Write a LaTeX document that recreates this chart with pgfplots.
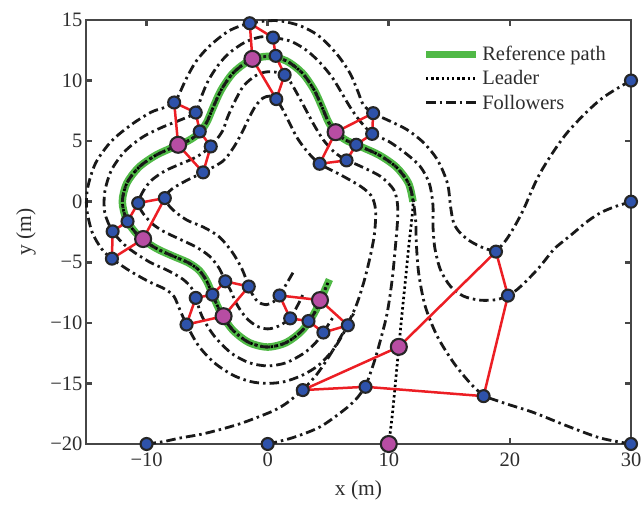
\documentclass[border=0pt]{standalone}
\usepackage{fontspec}
\setmainfont{Liberation Serif}
\usepackage{pgfplots}
\usepackage{pgfplotstable}
\pgfplotsset{compat=1.18}

\definecolor{refgreen}{RGB}{80,185,70}
\definecolor{linkred}{RGB}{236,30,36}
\definecolor{agentblue}{RGB}{46,82,170}
\definecolor{leadmag}{RGB}{183,77,163}
\definecolor{axgray}{RGB}{70,70,70}
\definecolor{txtgray}{RGB}{45,45,45}

% reference path
\pgfplotstableread{
x y
12 0
11.63 1.53
10.63 2.85
9.24 3.83
7.79 4.5
6.56 5.03
5.66 5.66
5.03 6.56
4.5 7.79
3.83 9.24
2.85 10.63
1.53 11.63
0 12
-1.53 11.63
-2.85 10.63
-3.83 9.24
-4.5 7.79
-5.03 6.56
-5.66 5.66
-6.56 5.03
-7.79 4.5
-9.24 3.83
-10.63 2.85
-11.63 1.53
-12 0
-11.63 -1.53
-10.63 -2.85
-9.24 -3.83
-7.79 -4.5
-6.56 -5.03
-5.66 -5.66
-5.03 -6.56
-4.5 -7.79
-3.83 -9.24
-2.85 -10.63
-1.53 -11.63
0 -12
1.53 -11.63
2.85 -10.63
3.83 -9.24
4.5 -7.79
5.1 -6.42
}\refpath

% leader trajectory
\pgfplotstableread{
x y
10 -20
10.28 -17.7
10.55 -14.95
10.83 -11.98
11.1 -9.18
11.38 -6.43
11.65 -3.68
11.88 -1.6
12 0
11.63 1.53
10.63 2.85
9.24 3.83
7.79 4.5
6.56 5.03
5.66 5.66
5.03 6.56
4.5 7.79
3.83 9.24
2.85 10.63
1.53 11.63
0 12
-1.53 11.63
-2.85 10.63
-3.83 9.24
-4.5 7.79
-5.03 6.56
-5.66 5.66
-6.56 5.03
-7.79 4.5
-9.24 3.83
-10.63 2.85
-11.63 1.53
-12 0
-11.63 -1.53
-10.63 -2.85
-9.24 -3.83
-7.79 -4.5
-6.56 -5.03
-5.66 -5.66
-5.03 -6.56
-4.5 -7.79
-3.83 -9.24
-2.85 -10.63
-1.53 -11.63
0 -12
1.53 -11.63
2.85 -10.63
3.83 -9.24
4.5 -7.79
5.03 -6.56
}\leadtraj

% follower 1 (inner, 3 m)
\pgfplotstableread{
x y
-10 -20
-8.6 -19.8
-7.2 -19.5
-5.5 -19.2
-3.9 -18.8
-2.2 -18.3
-0.6 -17.7
0.6 -17.2
1.6 -16.6
2.9 -15.55
}\fonea
\pgfplotstableread{
x y
2.9 -15.55
4.1 -14.2
5.3 -12.4
6.4 -10.5
7.3 -8.6
7.95 -6.6
8.45 -4.6
8.8 -2.8
8.92 -1.2
8.85 -0.3
8.55 0.5
7.7 1.25
6.0 2.23
4.29 3.13
3.3 4.1
2.45 5.25
1.8 6.5
1.25 7.6
0.71 8.47
0.2 8.72
-0.4 8.55
-1.0 7.9
-1.55 6.9
-2.1 5.75
-2.8 4.5
-3.7 3.35
-5.33 2.42
-6.7 1.75
-7.9 1.05
-8.49 0.3
-7.9 -0.6
-6.7 -1.5
-5.3 -2.1
-4.0 -2.9
-2.9 -4.2
-2.1 -5.6
-1.56 -7.0
-1.2 -7.75
-0.75 -8.3
-0.1 -8.5
0.5 -8.25
0.98 -7.74
1.6 -6.7
2.14 -5.77
}\foneb

% follower 2 (inner, 1.5 m)
\pgfplotstableread{
x y
0 -20
2.0 -19.5
4.3 -18.6
6.3 -17.2
7.3 -16.3
8.08 -15.28
}\ftwoa
\pgfplotstableread{
x y
8.08 -15.28
8.77 -13.3
9.32 -11.4
9.87 -9.18
10.28 -6.43
10.55 -3.68
10.72 -1.6
10.72 -0.2
10.4 1.0
9.3 2.1
7.4 3.05
6.51 3.41
5.5 4.1
4.6 5.1
3.85 6.3
3.2 7.5
2.5 8.8
1.9 9.85
1.40 10.47
0.6 10.7
-0.2 10.7
-1.0 10.4
-2.0 9.55
-2.75 8.2
-3.3 7.0
-3.75 5.8
-4.70 4.56
-5.89 3.69
-7.22 3.11
-8.52 2.52
-9.61 1.75
-10.28 0.87
-10.69 -0.11
-10.3 -0.95
-9.55 -1.8
-8.6 -2.45
-7.22 -3.11
-5.89 -3.75
-4.8 -4.5
-4.0 -5.5
-3.5 -6.57
-3.11 -7.22
-2.52 -8.52
-1.75 -9.61
-0.87 -10.28
0 -10.5
0.87 -10.28
1.86 -9.63
2.4 -8.7
2.9 -7.7
}\ftwob

% follower 3 (on the path)
\pgfplotstableread{
x y
30 -20
27.45 -19.5
24.7 -18.5
21.95 -17.4
19.76 -16.7
17.83 -16.05
}\fthreea
\pgfplotstableread{
x y
17.83 -16.05
16.7 -14.95
15.36 -13.3
14.0 -11.1
13.0 -8.6
12.47 -5.9
12.28 -3.5
12.22 -1.6
12.0 0.2
11.63 1.53
10.63 2.85
9.24 3.83
7.79 4.5
6.56 5.03
5.66 5.66
5.03 6.56
4.5 7.79
3.83 9.24
2.85 10.63
1.53 11.63
0 12
-1.53 11.63
-2.85 10.63
-3.83 9.24
-4.5 7.79
-5.03 6.56
-5.66 5.66
-6.56 5.03
-7.79 4.5
-9.24 3.83
-10.63 2.85
-11.63 1.53
-12 0
-11.63 -1.53
-10.63 -2.85
-9.24 -3.83
-7.79 -4.5
-6.56 -5.03
-5.66 -5.66
-5.03 -6.56
-4.5 -7.79
-3.83 -9.24
-2.85 -10.63
-1.53 -11.63
0 -12
1.53 -11.63
2.85 -10.63
3.83 -9.24
4.5 -7.79
4.86 -6.94
}\fthreeb

% follower 4 (outer, 1.5 m)
\pgfplotstableread{
x y
30 0
28.7 -0.4
27.45 -0.93
26.3 -1.7
25.25 -2.58
24.3 -3.35
23.6 -3.96
22.5 -5.33
21.6 -6.3
20.6 -7.25
19.84 -7.75
}\ffoura
\pgfplotstableread{
x y
19.84 -7.75
18.93 -8.08
17.56 -8.13
16.18 -7.8
15.09 -6.98
14.26 -5.6
13.8 -3.8
13.65 -2.0
13.65 -0.3
13.35 1.5
12.6 2.9
11.45 3.95
9.96 5.0
8.63 5.6
7.55 6.75
6.75 7.9
6.1 9.0
5.3 10.3
4.3 11.5
3.2 12.5
1.9 13.25
0.44 13.55
-0.6 13.6
-1.9 13.15
-3.2 12.25
-4.1 11.25
-4.9 10.0
-5.5 8.6
-5.94 7.36
-7.2 6.75
-8.7 6.15
-10.3 5.35
-11.8 4.15
-12.9 2.6
-13.45 0.8
-13.45 -0.9
-12.80 -2.45
-11.6 -3.75
-9.8 -4.95
-8.2 -5.7
-7.0 -6.4
-6.3 -7.1
-5.94 -7.94
-5.4 -9.5
-4.4 -11.1
-3.0 -12.5
-1.5 -13.3
0 -13.55
1.5 -13.3
3.0 -12.5
3.95 -11.65
4.6 -10.8
5.1 -10.0
5.5 -9.4
}\ffourb

% follower 5 (outer, 3 m)
\pgfplotstableread{
x y
30 10
27.45 8.41
24.7 5.66
22.5 2.37
21.0 -0.9
19.8 -3.0
18.85 -4.12
}\ffivea
\pgfplotstableread{
x y
18.85 -4.12
17.83 -3.82
16.74 -3.27
15.9 -2.58
15.36 -1.76
15.1 -0.4
14.85 1.5
14.05 3.4
12.9 4.85
11.5 5.95
10.1 6.65
8.71 7.31
7.9 8.0
7.45 9.1
6.8 10.6
5.7 12.2
4.2 13.7
2.6 14.55
0.7 14.95
-1.48 14.73
-3.2 14.1
-4.8 12.85
-5.9 11.6
-6.7 10.2
-7.3 8.9
-7.72 8.19
-8.6 7.75
-9.6 7.4
-11.2 6.4
-12.9 5.0
-14.2 3.2
-14.85 1.2
-14.95 -0.5
-14.5 -2.5
-13.7 -3.9
-12.86 -4.70
-11.4 -5.7
-9.8 -6.6
-8.5 -7.2
-7.75 -7.8
-7.3 -8.8
-6.70 -10.14
-5.7 -11.9
-4.4 -13.3
-2.86 -14.32
-1.4 -14.85
0 -15
1.4 -14.85
2.86 -14.32
4.2 -13.5
5.5 -12.1
6.62 -10.2
7.2 -9.0
}\ffiveb

% formation snapshots: leader, F1, F2, F3, F4, F5 (ring closed on the leader)
\pgfplotstableread{
x y
10 -20
-10 -20
0 -20
30 -20
30 0
30 10
}\snapzero
\pgfplotstableread{
x y
10.83 -11.98
2.9 -15.55
8.08 -15.28
17.83 -16.05
19.84 -7.75
18.85 -4.12
10.83 -11.98
}\snapone
\pgfplotstableread{
x y
5.61 5.74
4.29 3.13
6.51 3.41
7.31 4.70
8.63 5.6
8.71 7.31
5.61 5.74
}\snaptwo
\pgfplotstableread{
x y
-1.26 11.79
0.71 8.47
1.40 10.47
0.66 12.04
0.44 13.55
-1.48 14.73
-1.26 11.79
}\snapthree
\pgfplotstableread{
x y
-7.39 4.70
-5.33 2.42
-4.70 4.56
-5.61 5.80
-5.94 7.36
-7.72 8.19
-7.39 4.70
}\snapfour
\pgfplotstableread{
x y
-10.28 -3.08
-8.49 0.30
-10.69 -0.11
-11.57 -1.62
-12.80 -2.45
-12.86 -4.70
-10.28 -3.08
}\snapfive
\pgfplotstableread{
x y
-3.64 -9.45
-1.56 -7.0
-3.5 -6.57
-4.56 -7.67
-5.94 -7.94
-6.70 -10.14
-3.64 -9.45
}\snapsix
\pgfplotstableread{
x y
4.32 -8.12
0.98 -7.74
1.86 -9.63
3.37 -9.85
4.6 -10.8
6.62 -10.2
4.32 -8.12
}\snapseven

\pgfplotsset{
  follower/.style={black!90, line width=2.8pt,
    dash pattern=on 9.5pt off 4pt on 2.5pt off 4pt, smooth},
  leaderline/.style={black, line width=2.7pt, dash pattern=on 2.4pt off 2.8pt, smooth},
  link/.style={linkred, line width=2.5pt, line join=round, forget plot},
  agent/.style={only marks, mark=*, mark size=6pt, forget plot,
    mark options={fill=agentblue, draw=black!85, line width=2.1pt, solid},
    restrict expr to domain={\coordindex}{1:5}},
  leadmark/.style={only marks, mark=*, mark size=8pt, forget plot,
    mark options={fill=leadmag, draw=black!85, line width=2.1pt, solid},
    restrict expr to domain={\coordindex}{0:0}},
}

\begin{document}
\begin{tikzpicture}
\begin{axis}[
  scale only axis, width=545pt, height=424pt,
  xmin=-15, xmax=30, ymin=-20, ymax=15,
  clip=false,
  xtick={-10,0,10,20,30}, xticklabels={−10,0,10,20,30},
  ytick={-20,-15,...,15}, yticklabels={−20,−15,−10,−5,0,5,10,15},
  tick label style={font=\fontsize{20.5}{24}\selectfont, text=txtgray},
  xticklabel style={yshift=-5pt},
  label style={font=\fontsize{21.5}{26}\selectfont, text=txtgray},
  xlabel={x (m)}, ylabel={y (m)},
  xlabel style={at={(axis description cs:0.5,-0.11)}, anchor=center},
  ylabel style={at={(axis description cs:-0.11,0.5)}, anchor=center},
  axis line style={axgray, line width=2.6pt},
  tick style={axgray, line width=2.6pt},
  major tick length=6pt,
  legend cell align=left,
  legend image code/.code={\draw[#1] (0pt,0pt) -- (50pt,0pt);},
  legend style={at={(axis cs:12.75,13.05)}, anchor=north west, draw=none, fill=none,
    font=\fontsize{20.5}{24}\selectfont, text=txtgray, inner sep=0pt, row sep=3.5pt,
    nodes={inner sep=2.5pt}},
]
\coordinate (bbsw) at (rel axis cs:0,0);
\coordinate (bbne) at (rel axis cs:1,1);

\addplot[refgreen, line width=7.5pt, smooth] table {\refpath};
\addlegendentry{Reference path}
\addplot[leaderline] table {\leadtraj};
\addlegendentry{Leader}
\addplot[follower] table {\fonea};
\addlegendentry{Followers}
\addplot[follower, forget plot] table {\foneb};
\addplot[follower, forget plot] table {\ftwoa};
\addplot[follower, forget plot] table {\ftwob};
\addplot[follower, forget plot] table {\fthreea};
\addplot[follower, forget plot] table {\fthreeb};
\addplot[follower, forget plot] table {\ffoura};
\addplot[follower, forget plot] table {\ffourb};
\addplot[follower, forget plot] table {\ffivea};
\addplot[follower, forget plot] table {\ffiveb};

% formation links
\addplot[link] table {\snapone};
\addplot[link] table {\snaptwo};
\addplot[link] table {\snapthree};
\addplot[link] table {\snapfour};
\addplot[link] table {\snapfive};
\addplot[link] table {\snapsix};
\addplot[link] table {\snapseven};

% agents
\addplot[agent] table {\snapzero};
\addplot[agent] table {\snapone};
\addplot[agent] table {\snaptwo};
\addplot[agent] table {\snapthree};
\addplot[agent] table {\snapfour};
\addplot[agent] table {\snapfive};
\addplot[agent] table {\snapsix};
\addplot[agent] table {\snapseven};
\addplot[leadmark] table {\snapzero};
\addplot[leadmark] table {\snapone};
\addplot[leadmark] table {\snaptwo};
\addplot[leadmark] table {\snapthree};
\addplot[leadmark] table {\snapfour};
\addplot[leadmark] table {\snapfive};
\addplot[leadmark] table {\snapsix};
\addplot[leadmark] table {\snapseven};
\end{axis}
\pgfresetboundingbox
\path ([shift={(-86pt,-69pt)}]bbsw) rectangle ([shift={(11pt,20pt)}]bbne);
\end{tikzpicture}
\end{document}
